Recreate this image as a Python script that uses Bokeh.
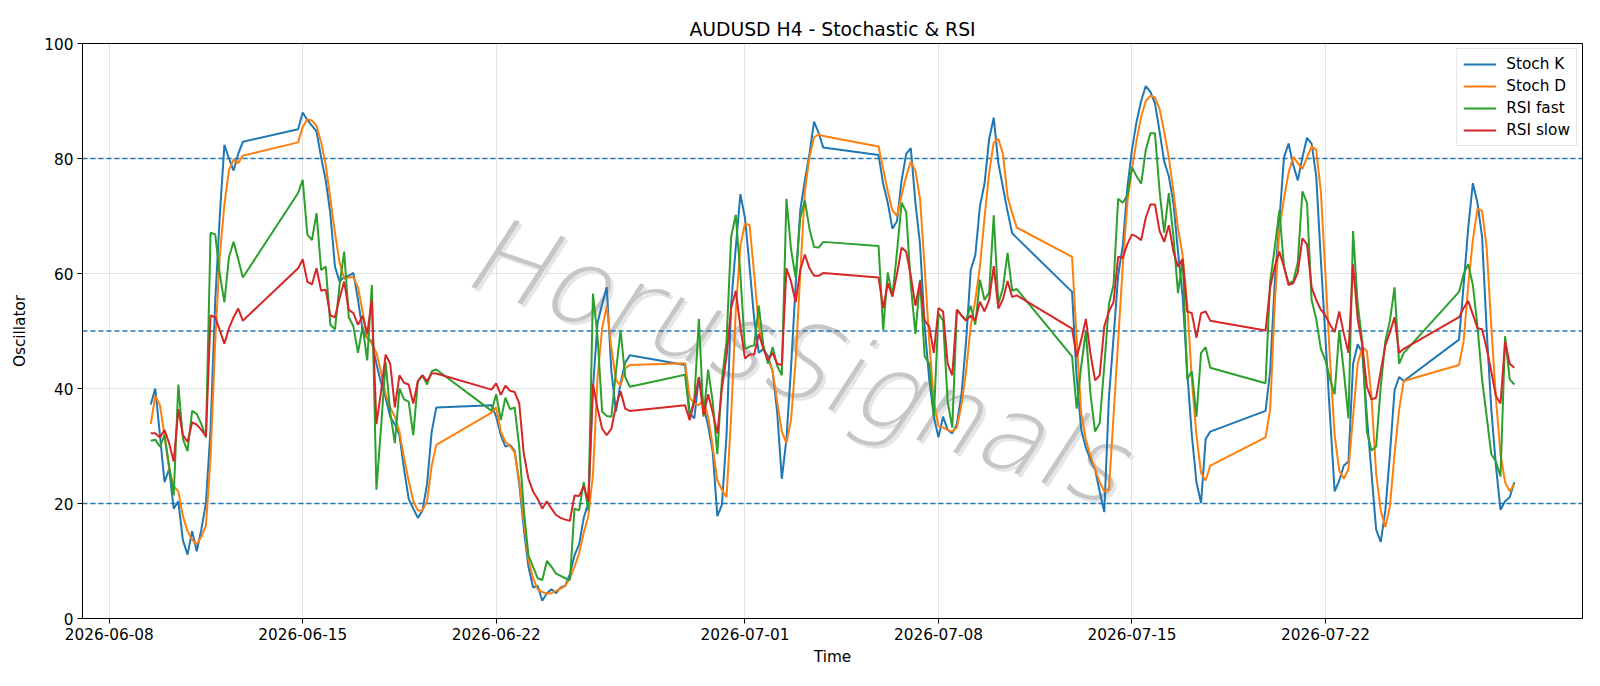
import pandas as pd
from bokeh.plotting import figure
from bokeh.models import Range1d, Span, Label, FixedTicker, DatetimeTickFormatter, ColumnDataSource
from bokeh.embed import file_html
from bokeh.resources import INLINE

title_text = "AUDUSD H4 - Stochastic & RSI"
watermark = "HorusSignals"

# trading sessions (H4 bars, Sunday open to Friday close)
sessions = [
    ("2026-06-09 12:00", "2026-06-12 20:00"),
    ("2026-06-14 20:00", "2026-06-19 20:00"),
    ("2026-06-21 20:00", "2026-06-26 20:00"),
    ("2026-06-28 20:00", "2026-07-03 20:00"),
    ("2026-07-05 20:00", "2026-07-10 20:00"),
    ("2026-07-12 20:00", "2026-07-17 20:00"),
    ("2026-07-19 20:00", "2026-07-24 20:00"),
    ("2026-07-26 20:00", "2026-07-28 20:00"),
]

stoch_k = [
    37.2, 40.0, 32.0, 23.7, 26.0, 19.1, 20.4, 13.6, 11.1, 15.2, 11.7, 15.5, 20.1, 33.0, 55.0, 70.0, 82.4, 80.0, 77.9, 80.8, 82.9,
    85.1, 88.0, 86.7, 85.7, 84.7, 80.2, 76.2, 70.4, 61.2, 58.6, 59.4, 59.6, 60.1, 55.4, 50.1, 48.8, 48.2, 44.3, 41.0, 38.4,
    35.1, 33.8, 31.9, 26.0, 20.8, 19.1, 17.5, 18.8, 23.4, 32.5, 36.7,
    37.1, 35.1, 31.9, 29.9, 30.2, 29.2, 23.4, 15.5, 9.0, 5.4, 5.7, 3.1, 4.4, 5.1, 4.4, 5.4, 5.7, 7.7, 11.0, 12.9,
    17.5, 20.1, 40.0, 51.4, 54.7, 57.6, 43.0, 36.0, 41.0, 44.5, 45.8,
    44.1, 35.7, 34.8, 42.0, 37.0, 33.5, 29.0, 17.8, 19.8, 31.9, 54.7, 64.5, 73.8, 69.7, 61.2, 52.1, 46.2, 46.9, 45.6, 43.0,
    35.8, 24.3, 31.2, 43.6, 58.0, 71.0, 76.2, 80.8, 86.4, 84.4, 81.9,
    80.6, 75.6, 72.3, 67.8, 69.1, 76.2, 80.8, 81.8, 72.3, 65.1, 50.8, 41.6, 35.1, 31.5, 35.1, 32.8, 32.2, 33.8, 39.0, 48.2,
    60.6, 63.2, 71.7, 75.6, 83.4, 87.1, 79.2, 75.0, 70.8, 67.0, 66.2,
    56.8, 42.0, 32.8, 29.7, 27.6, 25.9, 22.1, 18.5, 38.4, 48.8, 59.6, 64.8, 74.9, 81.5, 86.4, 90.0, 92.6, 91.6, 89.6, 84.7,
    79.5, 76.9, 72.3, 63.8, 56.0, 42.9, 31.9, 23.7, 20.1, 31.2, 32.5,
    36.1, 43.0, 58.6, 69.1, 80.2, 82.6, 78.9, 76.2, 80.2, 83.6, 82.6, 76.9, 62.5, 48.8, 35.1, 22.1, 24.0, 26.6, 27.3, 44.3,
    47.7, 46.2, 35.1, 25.3, 15.5, 13.3, 18.8, 28.6, 39.7, 42.0, 41.3,
    48.5, 58.0, 68.0, 75.7, 72.3, 66.4, 50.1, 36.4, 26.6, 18.9, 20.4, 21.1, 23.7,
]

stoch_d = [
    33.8, 38.7, 37.1, 31.9, 26.0, 23.0, 22.1, 17.8, 15.2, 13.7, 12.9, 14.2, 16.2, 28.0, 48.0, 63.0, 72.0, 78.0, 79.8, 79.2, 80.5,
    82.8, 85.5, 86.8, 86.6, 85.7, 82.8, 78.9, 73.0, 67.1, 61.9, 59.1, 59.3, 59.4, 57.6, 53.4, 48.8, 47.8, 46.2, 42.9, 39.0,
    36.7, 35.1, 32.5, 27.9, 24.0, 20.4, 18.8, 18.8, 20.4, 26.6, 30.2,
    35.8, 36.7, 32.5, 30.7, 30.0, 28.9, 24.0, 16.8, 10.3, 7.0, 5.1, 4.6, 4.3, 4.4, 4.8, 5.2, 5.7, 7.0, 9.0, 11.3,
    14.9, 17.8, 25.0, 42.0, 50.5, 54.3, 47.0, 41.5, 40.5, 43.5, 44.1,
    44.4, 38.4, 37.4, 37.1, 38.1, 35.1, 29.9, 24.0, 22.4, 21.1, 35.1, 53.4, 64.8, 68.7, 68.4, 59.9, 50.8, 46.9, 45.2, 43.0,
    37.7, 32.5, 30.5, 34.5, 44.9, 59.9, 74.3, 80.2, 83.7, 84.2, 83.9,
    82.1, 78.2, 74.3, 71.0, 70.0, 73.6, 76.9, 79.5, 77.9, 73.0, 61.2, 48.2, 37.7, 33.5, 33.2, 32.8, 32.5, 33.2, 37.1, 43.0,
    50.8, 55.4, 61.2, 69.7, 77.5, 82.8, 83.4, 80.8, 73.4, 70.5, 68.0,
    62.9, 48.6, 35.6, 31.1, 28.3, 26.0, 23.7, 22.1, 22.4, 35.1, 48.2, 61.2, 72.3, 78.2, 83.1, 87.3, 90.0, 90.9, 90.6, 88.6,
    84.7, 80.2, 74.3, 67.8, 63.2, 54.7, 41.6, 31.9, 25.3, 24.0, 26.6,
    31.5, 36.4, 54.7, 67.8, 73.0, 77.5, 80.3, 79.2, 78.2, 80.2, 82.1, 81.5, 74.3, 59.9, 44.9, 31.9, 25.7, 24.3, 26.0, 35.1,
    44.3, 47.2, 46.5, 38.4, 25.3, 18.8, 15.9, 19.5, 28.6, 36.4, 41.3,
    44.1, 48.2, 58.0, 65.8, 71.3, 70.9, 64.5, 50.8, 38.4, 28.6, 23.7, 22.1, 23.4,
]

rsi_fast = [
    30.9, 31.1, 29.9, 31.9, 26.6, 21.4, 40.7, 31.2, 29.1, 36.1, 35.6, 33.8, 31.5, 67.1, 66.8, 59.9, 55.0, 62.9, 65.5, 62.5, 59.3,
    74.0, 76.3, 66.8, 65.8, 70.5, 60.6, 61.2, 51.1, 50.3, 58.0, 63.8, 52.4, 50.8, 46.2, 50.8, 44.9, 58.0, 22.4, 33.2, 44.6,
    35.8, 30.5, 40.0, 38.1, 37.7, 31.9, 41.3, 42.3, 40.7, 43.0, 43.3,
    36.1, 39.0, 34.5, 38.4, 36.4, 36.7, 29.9, 18.8, 11.0, 9.0, 7.0, 6.7, 10.0, 9.0, 7.8, 7.4, 7.0, 6.7, 19.1, 18.8,
    23.7, 18.8, 56.5, 49.0, 36.0, 35.2, 35.1, 43.0, 50.1, 42.0, 40.3,
    42.4, 35.1, 38.0, 52.1, 35.1, 43.3, 37.7, 28.6, 41.6, 48.2, 66.4, 70.2, 59.9, 46.9, 47.3, 47.5, 54.4, 47.5, 44.3, 47.2,
    43.9, 42.3, 73.0, 64.2, 59.3, 69.7, 72.7, 67.8, 64.6, 64.5, 65.5,
    64.8, 50.2, 60.2, 56.0, 63.8, 72.3, 70.7, 58.0, 49.5, 58.9, 45.6, 44.3, 35.1, 53.1, 51.8, 37.7, 33.2, 53.7, 52.7, 51.8,
    54.4, 51.1, 58.9, 55.4, 56.7, 70.1, 54.7, 57.5, 63.6, 57.0, 57.3,
    45.6, 36.5, 44.0, 50.0, 39.0, 32.5, 34.0, 44.0, 54.7, 58.0, 73.0, 72.3, 73.6, 78.5, 76.9, 75.6, 81.5, 84.4, 84.4, 74.3,
    67.1, 74.0, 66.4, 56.6, 62.5, 41.6, 43.0, 35.1, 46.2, 47.2, 43.6,
    40.9, 58.6, 64.5, 71.0, 61.2, 58.3, 58.6, 61.9, 74.3, 72.3, 55.4, 52.1, 46.9, 44.9, 41.6, 39.0, 50.1, 42.9, 34.8, 67.4,
    54.7, 48.2, 32.5, 29.2, 29.9, 40.3, 48.2, 51.8, 57.6, 44.3, 46.2,
    56.8, 59.9, 61.6, 58.0, 50.8, 41.6, 35.1, 28.6, 27.3, 24.7, 49.1, 41.6, 40.7,
]

rsi_slow = [
    32.2, 32.2, 31.5, 32.8, 30.5, 27.3, 36.4, 31.9, 30.7, 34.1, 33.7, 32.8, 31.7, 52.7, 52.4, 50.1, 47.8, 50.5, 52.4, 53.9, 51.8,
    60.9, 62.5, 58.6, 58.1, 60.9, 57.0, 57.2, 52.7, 52.4, 55.7, 58.6, 53.7, 53.1, 51.1, 52.6, 49.5, 55.4, 33.8, 39.4, 45.9,
    44.3, 36.7, 42.3, 41.0, 40.7, 37.4, 41.3, 42.3, 41.3, 42.6, 42.6,
    39.8, 40.9, 38.9, 40.5, 39.6, 39.4, 37.4, 28.6, 24.3, 22.1, 20.8, 19.1, 20.4, 19.1, 18.0, 17.5, 17.2, 17.0, 21.4, 21.3,
    23.0, 20.4, 40.8, 36.5, 33.0, 31.9, 33.0, 37.0, 39.5, 36.5, 36.1,
    37.1, 34.5, 37.7, 42.0, 35.4, 39.0, 35.8, 32.2, 40.0, 45.6, 54.0, 57.0, 50.8, 45.2, 45.9, 45.9, 49.5, 46.9, 44.9, 46.2,
    44.3, 44.1, 60.9, 58.6, 55.0, 60.6, 63.3, 60.9, 59.6, 59.6, 60.1,
    59.3, 54.0, 58.3, 56.0, 59.9, 64.5, 63.8, 59.6, 54.4, 58.6, 51.8, 50.8, 46.2, 54.0, 53.4, 44.3, 42.3, 53.7, 52.7, 51.8,
    52.7, 51.8, 55.1, 53.4, 55.4, 61.3, 53.9, 55.5, 58.7, 55.9, 56.2,
    50.4, 45.5, 48.5, 52.1, 46.0, 41.4, 42.3, 50.8, 53.4, 55.0, 62.9, 62.7, 65.1, 66.8, 66.4, 65.8, 69.7, 72.0, 72.0, 67.4,
    65.5, 68.4, 63.8, 61.2, 62.5, 53.4, 53.1, 48.8, 53.1, 53.4, 51.8,
    50.1, 57.6, 61.2, 63.8, 61.2, 58.0, 58.3, 60.2, 66.1, 65.1, 57.6, 55.4, 53.7, 52.7, 51.1, 49.8, 53.4, 49.5, 46.2, 61.6,
    52.1, 47.5, 40.3, 38.1, 38.4, 43.0, 47.5, 49.8, 52.4, 46.2, 46.9,
    52.4, 54.0, 55.2, 52.9, 50.5, 50.3, 46.9, 43.0, 38.7, 37.4, 48.2, 44.3, 43.6,
]

series_names = ["Stoch K", "Stoch D", "RSI fast", "RSI slow"]
series_colors = ["#1f77b4", "#ff7f0e", "#2ca02c", "#d62728"]
levels = [20, 50, 80]
date_ticks = ["2026-06-08", "2026-06-15", "2026-06-22", "2026-07-01", "2026-07-08", "2026-07-15", "2026-07-22"]
y_ticks = [0, 20, 40, 60, 80, 100]

FONT = "DejaVu Sans"
FS = "15.3px"

times = []
for a, b in sessions:
    times.extend(list(pd.date_range(a, b, freq="4h")))
times = pd.DatetimeIndex(times)
n = min(len(times), len(stoch_k), len(stoch_d), len(rsi_fast), len(rsi_slow))
src = ColumnDataSource(dict(t=times[:n], k=stoch_k[:n], d=stoch_d[:n], f=rsi_fast[:n], s=rsi_slow[:n]))

def ms(ts):
    return pd.Timestamp(ts).value / 1e6

t0 = ms(times[:n].min())
t1 = ms(times[:n].max())
pad = (t1 - t0) * 0.05
xs, xe = t0 - pad, t1 + pad

p = figure(width=1600, height=686, x_axis_type="datetime", output_backend="svg",
           toolbar_location=None, x_range=Range1d(xs, xe), y_range=Range1d(0, 100),
           min_border_left=82, min_border_right=18, min_border_top=43, min_border_bottom=68)

p.title.text = title_text
p.title.align = "center"
p.title.text_font = FONT
p.title.text_font_size = "18.8px"
p.title.text_font_style = "normal"
p.title.text_color = "black"
p.title.standoff = 8

# watermark (thin embossed-looking text)
wx = xs + 0.476 * (xe - xs)
wy = 45.0
WM_FONT = "DejaVu Sans ExtraLight, DejaVu Sans Light, DejaVu Sans"
for dx, dy, col in [(3, -3, "#e6e6e6"), (0, 0, "#c6c6c6")]:
    p.add_layout(Label(x=wx, y=wy, text=watermark, x_offset=dx, y_offset=dy, angle=-0.33,
                       text_align="center", text_baseline="middle", text_font=WM_FONT,
                       text_font_size="106px", text_font_style="italic", text_color=col,
                       level="underlay"))

for lv in levels:
    p.add_layout(Span(location=lv, dimension="width", line_color="#1f77b4", line_width=1.3,
                      line_dash="5 3", level="underlay"))

cols = ["k", "d", "f", "s"]
for c, name, color in zip(cols, series_names, series_colors):
    p.line("t", c, source=src, line_color=color, line_width=2, legend_label=name)

p.xaxis.ticker = FixedTicker(ticks=[ms(d) for d in date_ticks])
p.xaxis.formatter = DatetimeTickFormatter(days="%Y-%m-%d", months="%Y-%m-%d", hours="%Y-%m-%d")
p.yaxis.ticker = FixedTicker(ticks=y_ticks)
p.xaxis.axis_label = "Time"
p.yaxis.axis_label = "Oscillator"
for ax in (p.xaxis[0], p.yaxis[0]):
    ax.axis_label_text_font = FONT
    ax.axis_label_text_font_size = FS
    ax.axis_label_text_font_style = "normal"
    ax.axis_label_text_color = "black"
    ax.major_label_text_font = FONT
    ax.major_label_text_font_size = FS
    ax.major_label_text_color = "black"
    ax.major_tick_in = 0
    ax.major_tick_out = 5
    ax.minor_tick_out = 0
    ax.minor_tick_in = 0
    ax.major_label_standoff = 4
    ax.axis_line_color = "black"
    ax.major_tick_line_color = "black"
p.yaxis.axis_label_standoff = 12
p.xaxis.axis_label_standoff = 5

p.xgrid.ticker = p.xaxis[0].ticker
p.ygrid.ticker = p.yaxis[0].ticker
for g in (p.xgrid[0], p.ygrid[0]):
    g.grid_line_color = "#b0b0b0"
    g.grid_line_alpha = 0.35
    g.grid_line_width = 1

p.outline_line_color = "black"
p.outline_line_width = 1
p.outline_line_alpha = 1
p.background_fill_color = "white"
p.border_fill_color = "white"

lg = p.legend[0]
lg.location = "top_right"
lg.margin = 5
lg.padding = 6
lg.spacing = 4
lg.label_height = 18
lg.glyph_height = 18
lg.glyph_width = 33
lg.label_standoff = 10
lg.label_text_font = FONT
lg.label_text_font_size = FS
lg.label_text_color = "black"
lg.border_line_color = "#cccccc"
lg.border_line_width = 1
lg.background_fill_alpha = 0.85

open("out.html", "w").write(file_html(p, INLINE))
